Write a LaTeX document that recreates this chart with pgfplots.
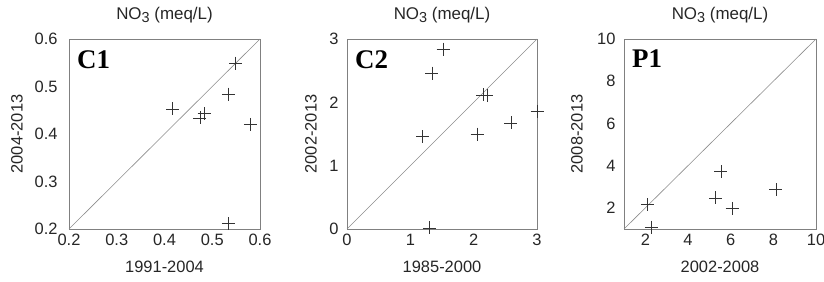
\documentclass[border=0pt]{standalone}
\usepackage{fontspec}
\setmainfont{Liberation Sans}
\newfontfamily\serifb{Liberation Serif}
\usepackage{pgfplots}
\pgfplotsset{compat=1.18}
\tikzset{plabel/.style={anchor=north west, font=\fontsize{27}{29}\selectfont\serifb\bfseries, inner sep=0pt, xshift=8bp, yshift=-11bp}}
\newcommand{\nothree}{NO\raisebox{-0.4ex}{\fontsize{14.5}{15}\selectfont 3} (meq/L)}
\begin{document}
\begin{tikzpicture}
\useasboundingbox (0bp,0bp) rectangle (824bp,282bp);
\pgfplotsset{
  every axis/.append style={
    scale only axis,
    font=\fontsize{16.5}{18}\selectfont,
    axis line style={draw=black!50, line width=0.8pt},
    major tick length=0pt,
    /pgf/number format/assume math mode=true,
    ticklabel style={text=black!85},
    xticklabel style={yshift=-2bp},
    yticklabel style={xshift=-5bp},
    label style={text=black!85},
    title style={text=black!85, font=\fontsize{17}{18}\selectfont, at={(axis description cs:0.5,1.095)}, anchor=center},
    xlabel style={at={(axis description cs:0.5,-0.2)}, anchor=center},
    clip=false,
  },
  pts/.style={only marks, mark=+, mark size=6.5bp, mark options={line width=0.6pt}, color=black!80},
  diag/.style={no marks, draw=black!45, line width=0.6pt},
}
% Panel C1
\begin{axis}[at={(69bp,53bp)}, anchor=south west, width=191bp, height=190bp,
  xmin=0.2, xmax=0.6, ymin=0.2, ymax=0.6,
  xtick={0.2,0.3,0.4,0.5,0.6}, ytick={0.2,0.3,0.4,0.5,0.6},
  xticklabels={0.2,0.3,0.4,0.5,0.6}, yticklabels={0.2,0.3,0.4,0.5,0.6},
  yticklabel style={xshift=-3bp},
  title={\nothree}, xlabel={1991-2004}, ylabel={2004-2013},
  ylabel style={at={(axis description cs:-0.272,0.5)}, anchor=center, rotate=0},
]
\addplot[diag] coordinates {(0.2,0.2) (0.6,0.6)};
\addplot[pts] coordinates {
(0.417,0.453) (0.474,0.434) (0.483,0.443) (0.534,0.484) (0.549,0.549) (0.580,0.420) (0.534,0.211)
};
\node[plabel] at (rel axis cs:0,1) {C1};
\end{axis}
% Panel C2
\begin{axis}[at={(347bp,53bp)}, anchor=south west, width=190bp, height=190bp,
  xmin=0, xmax=3, ymin=0, ymax=3,
  xtick={0,1,2,3}, ytick={0,1,2,3},
  title={\nothree}, xlabel={1985-2000}, ylabel={2002-2013},
  ylabel style={at={(axis description cs:-0.19,0.5)}, anchor=center, rotate=0},
]
\addplot[diag] coordinates {(0,0) (3,3)};
\addplot[pts] coordinates {
(1.516,2.84) (1.342,2.46) (2.147,2.116) (2.21,2.105) (3.0,1.858) (2.589,1.674) (2.053,1.50) (1.195,1.458) (1.30,0.016)
};
\node[plabel] at (rel axis cs:0,1) {C2};
\end{axis}
% Panel P1
\begin{axis}[at={(624bp,53bp)}, anchor=south west, width=192bp, height=190bp,
  xmin=1, xmax=10, ymin=1, ymax=10,
  xtick={2,4,6,8,10}, ytick={2,4,6,8,10},
  title={\nothree}, xlabel={2002-2008}, ylabel={2008-2013},
  ylabel style={at={(axis description cs:-0.245,0.5)}, anchor=center, rotate=0},
]
\addplot[diag] coordinates {(1,1) (10,10)};
\addplot[pts] coordinates {
(2.09,2.15) (2.28,1.09) (5.54,3.71) (5.30,2.47) (6.07,1.98) (8.12,2.86)
};
\node[plabel] at (rel axis cs:0,1) {P1};
\end{axis}
\end{tikzpicture}
\end{document}
